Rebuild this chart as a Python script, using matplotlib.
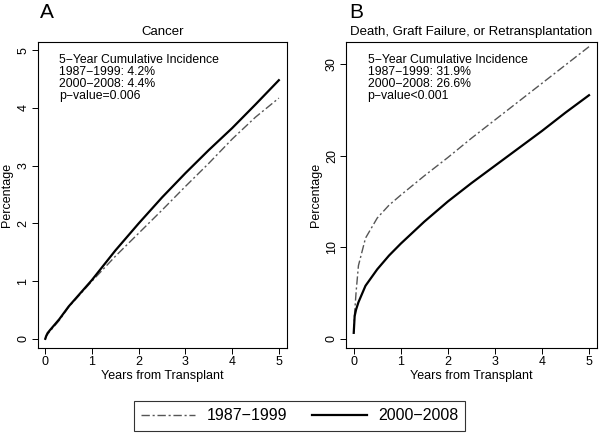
import matplotlib.pyplot as plt

plt.rcParams['font.family'] = ['Liberation Sans', 'DejaVu Sans']

# panel A: cancer
lata_a = [0, 0.02, 0.05, 0.1, 0.3, 0.5, 1, 1.5, 2, 2.5, 3, 3.5, 4, 4.5, 5]
rak_stare = [0, 0.04, 0.08, 0.13, 0.32, 0.55, 1.0, 1.43, 1.83, 2.23, 2.64, 3.04, 3.46, 3.84, 4.17]
rak_nowe = [0, 0.05, 0.1, 0.15, 0.34, 0.56, 1.02, 1.53, 2.0, 2.45, 2.87, 3.27, 3.65, 4.06, 4.48]

# panel B: death, graft failure, retransplantation
lata_b = [0, 0.02, 0.05, 0.1, 0.25, 0.5, 0.75, 1, 1.5, 2, 2.5, 3, 3.5, 4, 4.5, 5]
zgon_stare = [0.7, 2.9, 5.1, 8.0, 11.0, 13.2, 14.6, 15.7, 17.8, 19.8, 21.9, 23.9, 25.9, 27.9, 29.9, 31.9]
zgon_nowe = [0.66, 2.5, 3.2, 4.0, 5.8, 7.6, 9.1, 10.4, 12.8, 15.0, 17.0, 18.9, 20.8, 22.7, 24.7, 26.6]

opis_a = "5\u2212Year Cumulative Incidence\n1987\u22121999: 4.2%\n2000\u22122008: 4.4%\np\u2212value=0.006"
opis_b = "5\u2212Year Cumulative Incidence\n1987\u22121999: 31.9%\n2000\u22122008: 26.6%\np\u2212value<0.001"

fig = plt.figure(figsize=(6, 4.34), dpi=100)
ax1 = fig.add_axes([0.063, 0.198, 0.415, 0.705])
ax2 = fig.add_axes([0.577, 0.198, 0.418, 0.705])

ax1.plot(lata_a, rak_stare, color='#555555', lw=1.0, dashes=[6, 2, 1.5, 2], label='1987\u22121999')
ax1.plot(lata_a, rak_nowe, color='black', lw=1.6, label='2000\u22122008')
ax2.plot(lata_b, zgon_stare, color='#555555', lw=1.0, dashes=[6, 2, 1.5, 2])
ax2.plot(lata_b, zgon_nowe, color='black', lw=1.6)

ax1.set_xlim(-0.16, 5.17)
ax1.set_ylim(-0.16, 5.14)
ax1.set_yticks([0, 1, 2, 3, 4, 5])
ax2.set_xlim(-0.16, 5.17)
ax2.set_ylim(-1.0, 32.4)
ax2.set_yticks([0, 10, 20, 30])

for ax, tytul, opis, litera, lx in [(ax1, 'Cancer', opis_a, 'A', 0.008),
                                    (ax2, 'Death, Graft Failure, or Retransplantation', opis_b, 'B', 0.012)]:
    ax.set_xticks([0, 1, 2, 3, 4, 5])
    ax.set_title(tytul, fontsize=9.5, pad=5)
    ax.set_xlabel('Years from Transplant', fontsize=9, labelpad=1)
    ax.set_ylabel('Percentage', fontsize=9, labelpad=3)
    ax.tick_params(labelsize=9, length=4, width=0.7, pad=2)
    for lab in ax.get_yticklabels():
        lab.set_rotation(90)
        lab.set_va('center')
    for s in ax.spines.values():
        s.set_linewidth(0.8)
    ax.text(0.085, 0.96, opis, transform=ax.transAxes, fontsize=8.8,
            va='top', ha='left', linespacing=1.0)
    ax.text(lx, 1.078, litera, transform=ax.transAxes, fontsize=15,
            va='baseline', ha='left')

leg = fig.legend(loc='center', bbox_to_anchor=(0.4991, 0.0415), ncol=2, fontsize=11.5,
                 frameon=True, fancybox=False, edgecolor='black', handlelength=3.4,
                 handletextpad=0.7, columnspacing=1.6, borderpad=0.45)
leg.get_frame().set_linewidth(0.8)

plt.savefig('out.png', format='png', dpi=100)
